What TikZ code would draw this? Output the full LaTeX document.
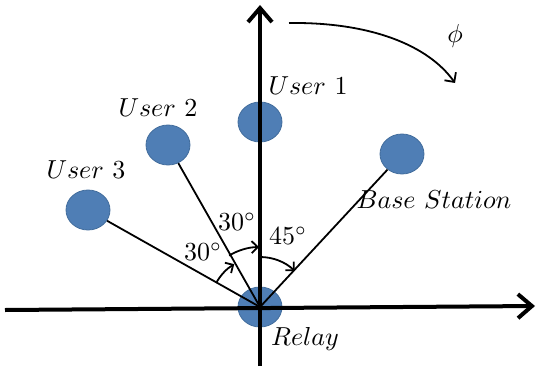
\documentclass[tikz,border=0pt]{standalone}
\usetikzlibrary{arrows.meta,shapes.geometric}
\definecolor{nodefill}{RGB}{79,126,181}
\definecolor{nodeline}{RGB}{65,108,156}
\newcommand{\bigtxt}[1]{\scalebox{2.6}{#1}}
\begin{document}
\begin{tikzpicture}[x=1pt,y=-1pt,
  dot/.style={ellipse,fill=nodefill,draw=nodeline,line width=0.8pt,minimum width=44pt,minimum height=40pt,inner sep=0pt},
  axis/.style={line width=4pt,-{Straight Barb[length=14pt,width=24pt]}},
  link/.style={line width=1.8pt},
  angarc/.style={line width=1.8pt,-{Straight Barb[length=6pt,width=12pt]}},
  lbl/.style={inner sep=0pt}]
\useasboundingbox (0,0) rectangle (537,369);
% nodes
\node[dot] (relay) at (260,307) {};
\node[dot] (u1) at (260,122) {};
\node[dot] (u2) at (168,145) {};
\node[dot] (u3) at (88,210) {};
\node[dot] (bs) at (402,154) {};
% connectors
\draw[link] (relay.center) -- (u3);
\draw[link] (relay.center) -- (u2);
\draw[link] (relay.center) -- (bs);
% axes
\coordinate (xl) at (5,310);
\coordinate (xr) at (535,306);
\coordinate (yb) at (260,366);
\coordinate (yt) at (260,5);
\draw[axis] (xl) -- (xr);
\draw[axis] (yb) -- (yt);
% angle arcs
\draw[angarc] (relay.center) ++(-150:50) arc[start angle=-150,end angle=-121,radius=50];
\draw[angarc] (relay.center) ++(-121:60) arc[start angle=-121,end angle=-91,radius=60];
\draw[angarc] (relay.center) ++(-90:50) arc[start angle=-90,end angle=-46,radius=50];
% angle labels
\node[lbl] (a1) at (203,252) {\bigtxt{$30^\circ$}};
\node[lbl] (a2) at (237,222) {\bigtxt{$30^\circ$}};
\node[lbl] (a3) at (288,236) {\bigtxt{$45^\circ$}};
% node labels
\node[lbl] (l1) at (308,86) {\bigtxt{$User~1$}};
\node[lbl] (l2) at (158,108) {\bigtxt{$User~2$}};
\node[lbl] (l3) at (86,170) {\bigtxt{$User~3$}};
\node[lbl] (lbs) at (434,200) {\bigtxt{$Base~Station$}};
\node[lbl] (lr) at (305,339) {\bigtxt{$Relay$}};
% rotation arrow
\coordinate (ps) at (289,23);
\coordinate (pe) at (455,83);
\draw[line width=1.8pt,-{Straight Barb[length=7pt,width=14pt]}] (ps) .. controls (370,22) and (428,45) .. (pe);
\node[lbl] (phi) at (455,36) {\bigtxt{$\phi$}};
\end{tikzpicture}
\end{document}
